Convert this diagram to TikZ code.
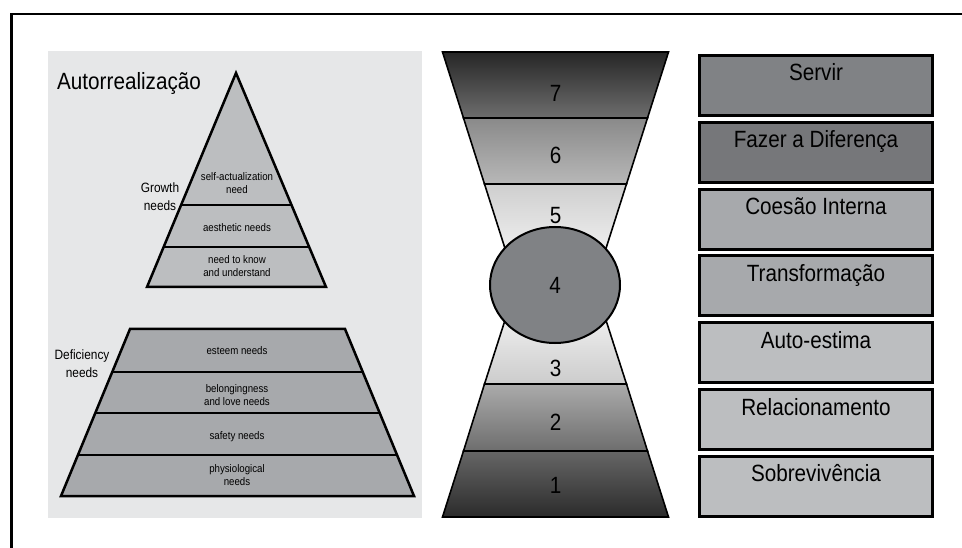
\documentclass[tikz,border=0pt]{standalone}
\usepackage{fontspec}
\setmainfont[FakeStretch=0.88]{Liberation Sans}
\usetikzlibrary{calc,shapes.geometric}

\definecolor{panelgrey}{HTML}{E6E7E8}
\definecolor{lightgrey}{HTML}{BCBEC0}
\definecolor{midgrey}{HTML}{A7A9AC}
\definecolor{darkgrey}{HTML}{808285}
\definecolor{darkergrey}{HTML}{76777A}

\tikzset{
    needtext/.style={font=\fontsize{11}{13}\selectfont, align=center, inner sep=0pt},
    sidetext/.style={font=\fontsize{13.5}{18}\selectfont, align=center, inner sep=0pt},
    levelnum/.style={font=\fontsize{23.5}{26}\selectfont, inner sep=0pt},
    valuebox/.style={draw, line width=3pt, minimum width=233pt, inner xsep=0pt,
        inner ysep=8pt, text height=17.5pt, text depth=26.5pt,
        font=\fontsize{23.5}{26}\selectfont},
    pyramid/.style={draw, line width=2.5pt, line join=miter},
    band/.style={draw, line width=1.6pt}
}

\begin{document}
\begin{tikzpicture}[x=1pt, y=-1pt]
    \useasboundingbox (0,0) rectangle (962,548);

    % Frame
    \draw[line width=2.3pt] (962,13.8) -- (11.5,13.8) -- (11.5,548);

    % Maslow panel
    \fill[panelgrey] (48,51) rectangle (422,518);
    \node[anchor=base west, inner sep=0pt, font=\fontsize{23.5}{26}\selectfont] (autor) at (57,90) {Autorrealização};

    % Growth needs
    \coordinate (apex) at (236,73);
    \coordinate (tbl) at (147,287);
    \coordinate (tbr) at (326,287);
    \filldraw[pyramid, fill=lightgrey] (apex) -- (tbr) -- (tbl) -- cycle;
    \draw[line width=2.5pt] ($(apex)!0.617!(tbl)$) -- ($(apex)!0.617!(tbr)$);
    \draw[line width=2.5pt] ($(apex)!0.813!(tbl)$) -- ($(apex)!0.813!(tbr)$);
    \node[needtext] (selfact) at (237,183.5) {self-actualization\\need};
    \node[needtext] (aesth) at (237,228) {aesthetic needs};
    \node[needtext] (know) at (237,266) {need to know\\and understand};
    \node[sidetext] (growth) at (160,197) {Growth\\needs};

    % Deficiency needs
    \coordinate (ztl) at (130,329);
    \coordinate (ztr) at (345,329);
    \coordinate (zbl) at (61,496);
    \coordinate (zbr) at (414,496);
    \filldraw[pyramid, fill=midgrey] (ztl) -- (ztr) -- (zbr) -- (zbl) -- cycle;
    \draw[line width=2.5pt] ($(ztl)!0.257!(zbl)$) -- ($(ztr)!0.257!(zbr)$);
    \draw[line width=2.5pt] ($(ztl)!0.503!(zbl)$) -- ($(ztr)!0.503!(zbr)$);
    \draw[line width=2.5pt] ($(ztl)!0.754!(zbl)$) -- ($(ztr)!0.754!(zbr)$);
    \node[needtext] (esteem) at (237,351) {esteem needs};
    \node[needtext] (belong) at (237,395.5) {belongingness\\and love needs};
    \node[needtext] (safety) at (237,437) {safety needs};
    \node[needtext] (physio) at (237,475) {physiological\\needs};
    \node[sidetext] (deficiency) at (82,364) {Deficiency\\needs};

    % Hourglass
    \shade[band, top color=black!85, bottom color=black!57] (442.5,52) -- (668.5,52) -- (647.5,118) -- (463.5,118) -- cycle;
    \shade[band, top color=black!46, bottom color=black!28] (463.5,118) -- (647.5,118) -- (626.5,184) -- (484.5,184) -- cycle;
    \shade[band, top color=black!19, bottom color=white] (484.5,184) -- (626.5,184) -- (594.5,284.5) -- (516.5,284.5) -- cycle;
    \shade[band, top color=white, bottom color=black!20] (516.5,284.5) -- (594.5,284.5) -- (626.5,384) -- (484.5,384) -- cycle;
    \shade[band, top color=black!33, bottom color=black!57] (484.5,384) -- (626.5,384) -- (647.5,451) -- (463.5,451) -- cycle;
    \shade[band, top color=black!60, bottom color=black!83] (463.5,451) -- (647.5,451) -- (668.5,517) -- (442.5,517) -- cycle;
    \node[levelnum] (lvl7) at (555.5,93.5) {7};
    \node[levelnum] (lvl6) at (555.5,155) {6};
    \node[levelnum] (lvl5) at (555.5,215.5) {5};
    \node[ellipse, draw, line width=2pt, fill=darkgrey, minimum width=130pt, minimum height=116pt, levelnum] (lvl4) at (555,285) {4};
    \node[levelnum] (lvl3) at (555.5,368.5) {3};
    \node[levelnum] (lvl2) at (555.5,422.5) {2};
    \node[levelnum] (lvl1) at (555.5,485) {1};

    % Values
    \node[valuebox, fill=darkgrey] (servir) at (816,85.5) {Servir};
    \node[valuebox, fill=darkergrey] (diferenca) at (816,152.3) {Fazer a Diferença};
    \node[valuebox, fill=midgrey] (coesao) at (816,219.1) {Coesão Interna};
    \node[valuebox, fill=midgrey] (transf) at (816,285.9) {Transformação};
    \node[valuebox, fill=lightgrey] (estima) at (816,352.7) {Auto-estima};
    \node[valuebox, fill=lightgrey] (relac) at (816,419.5) {Relacionamento};
    \node[valuebox, fill=lightgrey] (sobrev) at (816,486.3) {Sobrevivência};
\end{tikzpicture}
\end{document}
